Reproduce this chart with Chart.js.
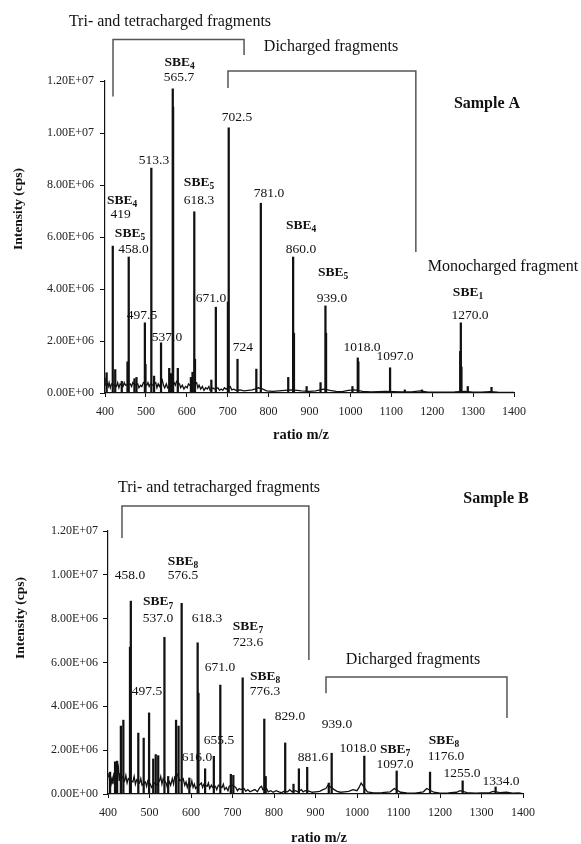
<!DOCTYPE html>
<html>
<head>
<meta charset="utf-8">
<script src="https://cdn.jsdelivr.net/npm/chart.js@4.4.1/dist/chart.umd.min.js"></script>
<style>
  body { margin: 0; background: #fff; }
  .panel { position: absolute; left: 0; width: 581px; }
</style>
</head>
<body>
<div class="panel" style="top:0;height:445px"><canvas id="sampleA" width="581" height="445"></canvas></div>
<div class="panel" style="top:445px;height:399px"><canvas id="sampleB" width="581" height="399"></canvas></div>
<script>
// axis ticks (m/z and intensity in cps)
const mzTicks = [400, 500, 600, 700, 800, 900, 1000, 1100, 1200, 1300, 1400];
const intensityTicks = [0, 2e6, 4e6, 6e6, 8e6, 1e7, 1.2e7];

// SAMPLE A - main peaks
const peakMzA = [404, 419, 425, 441, 455, 458, 472, 477, 497.5, 499, 513.3, 520, 537, 557, 561,
  565.7, 566.5, 578, 610, 614, 618.3, 620, 660, 671, 700.5, 702.5, 724, 770, 781, 848, 860, 862,
  893, 927, 939, 940.5, 1005, 1018, 1019.5, 1097, 1133, 1175, 1268.5, 1270, 1271.5, 1287, 1345];
const peakIntA = [0.78e6, 5.65e6, 0.9e6, 0.45e6, 1.2e6, 5.23e6, 0.55e6, 0.6e6, 2.7e6, 1.1e6, 8.65e6, 0.65e6, 1.93e6, 0.95e6, 0.75e6,
  11.7e6, 11.0e6, 0.95e6, 0.6e6, 0.8e6, 6.97e6, 1.3e6, 0.5e6, 3.3e6, 3.5e6, 10.2e6, 1.3e6, 0.92e6, 7.3e6, 0.6e6, 5.23e6, 2.3e6,
  0.25e6, 0.4e6, 3.35e6, 2.3e6, 0.25e6, 1.35e6, 1.2e6, 0.97e6, 0.12e6, 0.12e6, 1.6e6, 2.7e6, 1.0e6, 0.25e6, 0.22e6];

// SAMPLE A - baseline noise
const noiseMzA = [400, 402, 406, 408, 410, 413, 416, 422, 428, 431, 434, 437, 444, 447, 450, 462, 465, 468, 474, 480,
  483, 487, 490, 494, 502, 505, 508, 511, 516, 524, 527, 530, 533, 540, 543, 546, 550, 553, 569, 572,
  575, 582, 585, 589, 593, 597, 601, 604, 607, 624, 627, 630, 634, 638, 642, 646, 650, 654, 657, 664,
  667, 676, 680, 684, 688, 692, 696, 706, 710, 715, 720, 730, 740, 750, 760, 766, 775, 786, 795, 810,
  825, 840, 855, 870, 880, 900, 915, 935, 950, 965, 980, 995, 1010, 1030, 1050, 1070, 1085, 1105, 1125, 1150,
  1170, 1190, 1210, 1230, 1255, 1280, 1300, 1320, 1340, 1360, 1380, 1400];
const noiseIntA = [0.3e6, 0.5e6, 0.35e6, 0.25e6, 0.4e6, 0.2e6, 0.35e6, 0.3e6, 0.25e6, 0.4e6, 0.2e6, 0.35e6, 0.25e6, 0.4e6, 0.3e6, 0.35e6, 0.25e6, 0.4e6, 0.3e6, 0.35e6,
  0.2e6, 0.3e6, 0.25e6, 0.4e6, 0.3e6, 0.4e6, 0.25e6, 0.35e6, 0.3e6, 0.4e6, 0.2e6, 0.35e6, 0.25e6, 0.5e6, 0.3e6, 0.2e6, 0.35e6, 0.2e6, 0.4e6, 0.3e6,
  0.45e6, 0.35e6, 0.2e6, 0.3e6, 0.15e6, 0.25e6, 0.2e6, 0.35e6, 0.3e6, 0.4e6, 0.2e6, 0.3e6, 0.15e6, 0.25e6, 0.1e6, 0.2e6, 0.15e6, 0.25e6, 0.1e6, 0.2e6,
  0.15e6, 0.2e6, 0.1e6, 0.15e6, 0.1e6, 0.2e6, 0.15e6, 0.25e6, 0.12e6, 0.15e6, 0.1e6, 0.12e6, 0.08e6, 0.1e6, 0.12e6, 0.15e6, 0.2e6, 0.15e6, 0.08e6, 0.06e6,
  0.08e6, 0.1e6, 0.12e6, 0.1e6, 0.08e6, 0.06e6, 0.08e6, 0.15e6, 0.1e6, 0.06e6, 0.05e6, 0.1e6, 0.12e6, 0.06e6, 0.04e6, 0.05e6, 0.06e6, 0.05e6, 0.04e6, 0.04e6,
  0.08e6, 0.03e6, 0.03e6, 0.03e6, 0.04e6, 0.06e6, 0.03e6, 0.03e6, 0.05e6, 0.03e6, 0.02e6, 0.02e6];

// SAMPLE B - main peaks
const peakMzB = [405, 417, 422, 431, 437, 453, 455, 473, 486, 499, 509, 515, 521, 536, 545, 564, 570,
  577.5, 596, 616, 618, 634, 655, 670.6, 696, 702, 724.5, 776.6, 780, 827, 847, 860, 880, 932, 939,
  1017.6, 1095.6, 1176, 1254.6, 1334];
const peakIntB = [1.0e6, 1.47e6, 1.5e6, 3.1e6, 3.37e6, 6.7e6, 8.8e6, 2.78e6, 2.55e6, 3.7e6, 1.6e6, 1.8e6, 1.75e6, 7.15e6, 0.8e6, 3.37e6, 3.1e6,
  8.7e6, 0.73e6, 6.9e6, 4.6e6, 1.15e6, 1.72e6, 4.97e6, 0.9e6, 0.85e6, 5.3e6, 3.42e6, 0.8e6, 2.33e6, 0.45e6, 1.15e6, 1.22e6, 0.5e6, 1.86e6,
  1.73e6, 1.05e6, 1.0e6, 0.6e6, 0.32e6];

// SAMPLE B - baseline noise
const noiseMzB = [400, 402, 404, 406, 408, 410, 412, 414, 420, 425, 427, 429, 434, 440, 443, 446, 449, 460, 463, 466,
  469, 476, 479, 482, 490, 493, 496, 502, 505, 512, 518, 524, 527, 530, 533, 540, 543, 548, 551, 555,
  558, 561, 567, 573, 581, 585, 588, 591, 594, 599, 602, 605, 608, 611, 625, 628, 631, 639, 642, 645,
  649, 652, 659, 662, 666, 675, 678, 681, 685, 689, 692, 699, 708, 712, 716, 720, 728, 732, 737, 742,
  748, 754, 760, 766, 770, 773, 782, 786, 792, 798, 805, 812, 818, 823, 833, 838, 843, 852, 857, 866,
  870, 875, 886, 892, 900, 910, 918, 925, 930, 945, 952, 960, 970, 980, 990, 1000, 1005, 1010, 1025, 1040,
  1060, 1080, 1090, 1105, 1120, 1140, 1160, 1168, 1185, 1200, 1220, 1240, 1248, 1265, 1285, 1300, 1320, 1328, 1345, 1360,
  1375, 1390, 1400];
const noiseIntB = [0.8e6, 0.95e6, 0.6e6, 0.8e6, 0.5e6, 0.7e6, 0.45e6, 0.9e6, 0.7e6, 1.2e6, 0.6e6, 0.9e6, 0.8e6, 0.6e6, 0.85e6, 0.5e6, 0.7e6, 0.55e6, 0.8e6, 0.45e6,
  0.65e6, 0.5e6, 0.7e6, 0.4e6, 0.55e6, 0.35e6, 0.6e6, 0.45e6, 0.3e6, 0.5e6, 0.4e6, 0.6e6, 0.8e6, 0.45e6, 0.7e6, 0.5e6, 0.3e6, 0.55e6, 0.4e6, 0.7e6,
  0.45e6, 0.8e6, 0.9e6, 0.6e6, 0.7e6, 0.4e6, 0.55e6, 0.3e6, 0.5e6, 0.35e6, 0.6e6, 0.3e6, 0.45e6, 0.25e6, 0.5e6, 0.3e6, 0.45e6, 0.35e6, 0.5e6, 0.25e6,
  0.4e6, 0.3e6, 0.35e6, 0.2e6, 0.4e6, 0.3e6, 0.45e6, 0.2e6, 0.3e6, 0.15e6, 0.35e6, 0.4e6, 0.3e6, 0.15e6, 0.25e6, 0.2e6, 0.25e6, 0.12e6, 0.2e6, 0.1e6,
  0.15e6, 0.2e6, 0.1e6, 0.3e6, 0.35e6, 0.2e6, 0.25e6, 0.1e6, 0.15e6, 0.08e6, 0.15e6, 0.1e6, 0.06e6, 0.12e6, 0.1e6, 0.2e6, 0.1e6, 0.15e6, 0.1e6, 0.2e6,
  0.1e6, 0.15e6, 0.12e6, 0.08e6, 0.1e6, 0.12e6, 0.2e6, 0.25e6, 0.4e6, 0.2e6, 0.12e6, 0.08e6, 0.1e6, 0.12e6, 0.2e6, 0.15e6, 0.3e6, 0.5e6, 0.1e6, 0.05e6,
  0.06e6, 0.1e6, 0.25e6, 0.08e6, 0.05e6, 0.04e6, 0.1e6, 0.25e6, 0.08e6, 0.04e6, 0.05e6, 0.08e6, 0.15e6, 0.06e6, 0.04e6, 0.05e6, 0.06e6, 0.12e6, 0.06e6, 0.08e6,
  0.04e6, 0.05e6, 0.02e6];

// peak labels: [text, subscript, bold, m/z, intensity]
const labelsA = [
  ['SBE', '4', true, 441.6, 7.42e6], ['419', '', false, 437.9, 6.85e6],
  ['SBE', '5', true, 461.1, 6.15e6], ['458.0', '', false, 469.7, 5.54e6],
  ['497.5', '', false, 490.5, 3.0e6], ['513.3', '', false, 519.8, 8.96e6],
  ['SBE', '4', true, 582.2, 12.73e6], ['565.7', '', false, 580.9, 12.12e6],
  ['537.0', '', false, 551.6, 2.12e6],
  ['SBE', '5', true, 629.8, 8.08e6], ['618.3', '', false, 629.8, 7.42e6],
  ['671.0', '', false, 659.2, 3.65e6], ['702.5', '', false, 722.7, 10.58e6],
  ['724', '', false, 737.4, 1.77e6], ['781.0', '', false, 801, 7.69e6],
  ['SBE', '4', true, 879.2, 6.46e6], ['860.0', '', false, 879.2, 5.54e6],
  ['SBE', '5', true, 957.5, 4.62e6], ['939.0', '', false, 955, 3.65e6],
  ['1018.0', '', false, 1028.4, 1.77e6], ['1097.0', '', false, 1109, 1.42e6],
  ['SBE', '1', true, 1287.5, 3.88e6], ['1270.0', '', false, 1292.4, 3.0e6]
];
const labelsB = [
  ['458.0', '', false, 453, 9.95e6],
  ['SBE', '8', true, 580.7, 10.63e6], ['576.5', '', false, 580.7, 9.95e6],
  ['SBE', '7', true, 520.5, 8.76e6], ['537.0', '', false, 520.5, 8.03e6],
  ['618.3', '', false, 638.6, 8.03e6],
  ['SBE', '7', true, 737.3, 7.66e6], ['723.6', '', false, 737.3, 6.93e6],
  ['671.0', '', false, 669.9, 5.79e6],
  ['SBE', '8', true, 778.3, 5.34e6], ['776.3', '', false, 778.3, 4.70e6],
  ['497.5', '', false, 494, 4.70e6], ['829.0', '', false, 838.6, 3.56e6],
  ['655.5', '', false, 667.5, 2.46e6], ['616.0', '', false, 614.5, 1.69e6],
  ['939.0', '', false, 951.8, 3.19e6], ['881.6', '', false, 894, 1.69e6],
  ['1018.0', '', false, 1002.4, 2.10e6],
  ['SBE', '7', true, 1091.6, 2.05e6], ['1097.0', '', false, 1091.6, 1.37e6],
  ['SBE', '8', true, 1209.6, 2.46e6], ['1176.0', '', false, 1214.5, 1.73e6],
  ['1255.0', '', false, 1253, 0.96e6], ['1334.0', '', false, 1347, 0.55e6]
];

// fragment group notes: [text, m/z, intensity]
const notesA = [
  ['Tri- and tetracharged fragments', 558.9, 14.27e6],
  ['Dicharged fragments', 952.6, 13.3e6],
  ['Monocharged fragment', 1373, 4.85e6]
];
const notesB = [
  ['Tri- and tetracharged fragments', 667.5, 13.96e6],
  ['Dicharged fragments', 1134.9, 6.11e6]
];

// brackets: [m/z left, m/z right, intensity top, left foot, right foot]
const bracketsA = [
  [419.6, 740, 13.6e6, 11.4e6, 13.0e6],
  [700.7, 1160, 12.38e6, 11.73e6, 5.42e6]
];
const bracketsB = [
  [433.7, 884, 13.14e6, 11.68e6, 6.11e6],
  [925.3, 1361.4, 5.34e6, 4.6e6, 3.47e6]
];

const serif = '"Liberation Serif", "Times New Roman", serif';

function sci(v) {
  const parts = v.toExponential(2).split('e');
  const e = parseInt(parts[1], 10);
  return parts[0] + 'E' + (e < 0 ? '-' : '+') + String(Math.abs(e)).padStart(2, '0');
}

function drawText(ctx, x, y, text, sub, bold, size) {
  const w = bold ? 'bold ' : '';
  ctx.font = w + size + 'px ' + serif;
  const w1 = ctx.measureText(text).width;
  let w2 = 0;
  const subSize = size * 0.7;
  if (sub) {
    ctx.font = w + subSize + 'px ' + serif;
    w2 = ctx.measureText(sub).width;
  }
  const x0 = x - (w1 + w2) / 2;
  ctx.textAlign = 'left';
  ctx.textBaseline = 'middle';
  ctx.font = w + size + 'px ' + serif;
  ctx.fillText(text, x0, y);
  if (sub) {
    ctx.font = w + subSize + 'px ' + serif;
    ctx.fillText(sub, x0 + w1, y + size * 0.3);
  }
}

// draws labels, brackets, sample name and axis titles
function annotations(cfg) {
  return {
    id: 'annotations',
    afterDraw(chart) {
      const ctx = chart.ctx;
      const xs = chart.scales.x, ys = chart.scales.y;
      const area = chart.chartArea;
      ctx.save();
      ctx.fillStyle = '#111';
      cfg.labels.forEach(l => {
        drawText(ctx, xs.getPixelForValue(l[3]), ys.getPixelForValue(l[4]), l[0], l[1], l[2], 13.5);
      });
      cfg.notes.forEach(n => {
        drawText(ctx, xs.getPixelForValue(n[1]), ys.getPixelForValue(n[2]), n[0], '', false, 16);
      });
      ctx.strokeStyle = '#555';
      ctx.lineWidth = 1.5;
      cfg.brackets.forEach(b => {
        const x1 = xs.getPixelForValue(b[0]), x2 = xs.getPixelForValue(b[1]);
        const yt = ys.getPixelForValue(b[2]);
        ctx.beginPath();
        ctx.moveTo(x1, ys.getPixelForValue(b[3]));
        ctx.lineTo(x1, yt);
        ctx.lineTo(x2, yt);
        ctx.lineTo(x2, ys.getPixelForValue(b[4]));
        ctx.stroke();
      });
      drawText(ctx, area.right - 27, area.top + cfg.sampleDy, cfg.sample, '', true, 16);
      // axis titles
      drawText(ctx, (area.left + area.right) / 2 + cfg.xTitleDx, area.bottom + cfg.xTitleDy, 'ratio m/z', '', true, 14.5);
      ctx.translate(cfg.yTitleX, (area.top + area.bottom) / 2 + cfg.yTitleDy);
      ctx.rotate(-Math.PI / 2);
      drawText(ctx, 0, 0, 'Intensity (cps)', '', true, 13.5);
      ctx.restore();
    }
  };
}

function makeChart(id, peakMz, peakInt, noiseMz, noiseInt, box, cfg) {
  const peaks = peakMz.map((m, i) => ({ x: m, y: peakInt[i] }));
  const noise = noiseMz.map((m, i) => ({ x: m, y: noiseInt[i] }));
  return new Chart(document.getElementById(id), {
    type: 'bar',
    data: {
      datasets: [
        {
          type: 'line',
          data: noise,
          borderColor: '#111',
          borderWidth: 1.3,
          pointRadius: 0,
          tension: 0
        },
        {
          type: 'bar',
          data: peaks,
          backgroundColor: '#111',
          borderWidth: 0,
          barThickness: 1.6
        }
      ]
    },
    options: {
      responsive: false,
      animation: false,
      layout: { padding: { top: box.top, right: box.right, left: 0, bottom: 0 } },
      plugins: { legend: { display: false }, tooltip: { enabled: false } },
      scales: {
        x: {
          type: 'linear',
          min: 400,
          max: 1400,
          offset: false,
          afterFit: s => { s.height = box.xHeight; },
          afterBuildTicks: s => { s.ticks = mzTicks.map(v => ({ value: v })); },
          grid: { display: true, drawOnChartArea: false, drawTicks: true, tickLength: 4, color: '#111', offset: false },
          border: { color: '#111', width: 1.2 },
          ticks: { color: '#222', padding: 8, maxRotation: 0, callback: v => String(v), font: { family: serif, size: 12 } }
        },
        y: {
          min: 0,
          max: 1.2e7,
          afterFit: s => { s.width = box.yWidth; },
          afterBuildTicks: s => { s.ticks = intensityTicks.map(v => ({ value: v })); },
          grid: { display: true, drawOnChartArea: false, drawTicks: true, tickLength: 5, color: '#111' },
          border: { color: '#111', width: 1.2 },
          ticks: { color: '#222', padding: box.yPad, callback: v => sci(v), font: { family: serif, size: 12 } }
        }
      }
    },
    plugins: [annotations(cfg)]
  });
}

makeChart('sampleA', peakMzA, peakIntA, noiseMzA, noiseIntA,
  { top: 81, right: 67, xHeight: 52, yWidth: 105, yPad: 6 },
  { labels: labelsA, notes: notesA, brackets: bracketsA, sample: 'Sample A', sampleDy: 23,
    xTitleDx: -8.5, xTitleDy: 42, yTitleX: 19, yTitleDy: -28 });

makeChart('sampleB', peakMzB, peakIntB, noiseMzB, noiseIntB,
  { top: 86, right: 58, xHeight: 50, yWidth: 108, yPad: 5 },
  { labels: labelsB, notes: notesB, brackets: bracketsB, sample: 'Sample B', sampleDy: -32,
    xTitleDx: 3.5, xTitleDy: 44, yTitleX: 21, yTitleDy: -44.5 });
</script>
</body>
</html>
